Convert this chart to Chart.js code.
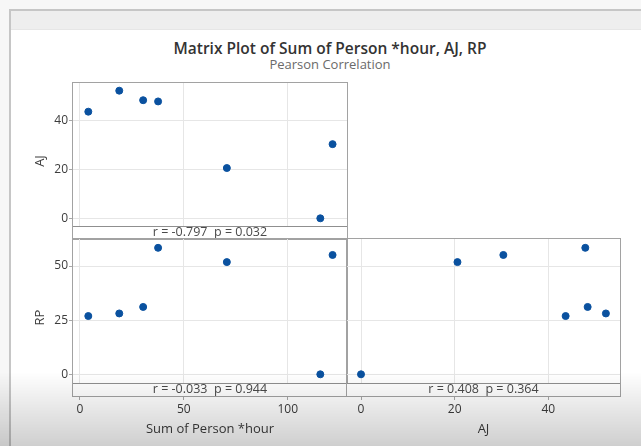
<!DOCTYPE html>
<html>
<head>
<meta charset="utf-8">
<title>Matrix Plot</title>
<script src="https://cdn.jsdelivr.net/npm/chart.js@4.4.0/dist/chart.umd.min.js"></script>
<style>
    html, body { margin: 0; padding: 0; }
    body {
        width: 641px; height: 446px; position: relative; overflow: hidden;
        background: #f7f7f7; font-family: 'Open Sans', sans-serif;
    }
    #sheet {
        position: absolute; left: 9px; top: 9px; width: 640px; height: 440px;
        background: #fff; border-left: 2px solid #c6c6c6; border-top: 2px solid #c6c6c6;
    }
    #band {
        position: absolute; left: 0; right: 0; top: 0; height: 18px;
        background: #eeeeee; border-bottom: 1px solid #e6e6e6;
    }
    .heading { position: absolute; left: 0; width: 660px; text-align: center; white-space: nowrap; }
    #mainTitle { top: 38px; font-size: 15.5px; font-weight: 600; line-height: 21px; color: #333; }
    #subTitle { top: 56px; font-size: 13px; line-height: 17px; color: #6a6a6a; }
    canvas { position: absolute; left: 0; top: 0; }
    #shade {
        position: absolute; left: 0; top: 0; width: 641px; height: 446px; pointer-events: none;
        background: linear-gradient(to bottom, rgba(0,0,0,0) 0px, rgba(0,0,0,0) 372px, rgba(0,0,0,0.19) 446px);
    }
</style>
</head>
<body>
<div id="sheet"><div id="band"></div></div>
<div id="mainTitle" class="heading">Matrix Plot of Sum of Person *hour, AJ, RP</div>
<div id="subTitle" class="heading">Pearson Correlation</div>
<canvas id="sumAjChart" width="641" height="446"></canvas>
<canvas id="sumRpChart" width="641" height="446"></canvas>
<canvas id="ajRpChart" width="641" height="446"></canvas>
<div id="shade"></div>

<script>
// observations (same order in every array)
var sumHours = [4.0, 18.9, 30.4, 37.6, 70.7, 115.7, 121.6];
var ajValues = [43.7, 52.3, 48.4, 47.9, 20.6, 0.0, 30.4];
var rpValues = [26.9, 28.1, 31.1, 58.4, 51.8, 0.0, 55.1];

// axis ticks
var sumTicks = [0, 50, 100];
var ajTicks = [0, 20, 40];
var rpTicks = [0, 25, 50];

// correlation strips under each panel
var sumAjLabel = 'r = -0.797  p = 0.032';
var sumRpLabel = 'r = -0.033  p = 0.944';
var ajRpLabel = 'r = 0.408  p = 0.364';

var STRIP = 13;

// frame + white strip with r / p text at the bottom of each panel
var panelFrame = {
    id: 'panelFrame',
    beforeDatasetsDraw: function(chart, args, opts) {
        var a = chart.chartArea;
        var ctx = chart.ctx;
        var stripTop = a.bottom - STRIP;
        ctx.save();
        ctx.fillStyle = '#ffffff';
        ctx.fillRect(a.left, stripTop, a.right - a.left, STRIP);
        ctx.strokeStyle = '#8f8f8f';
        ctx.lineWidth = 1;
        ctx.beginPath();
        ctx.moveTo(a.left, stripTop + 0.5);
        ctx.lineTo(a.right, stripTop + 0.5);
        ctx.stroke();
        ctx.strokeStyle = '#a2a2a2';
        ctx.strokeRect(a.left - 0.5, a.top - 0.5, a.right - a.left + 1, a.bottom - a.top + 1);
        ctx.fillStyle = '#4a4a4a';
        ctx.font = '12.5px "Open Sans"';
        ctx.textAlign = 'center';
        ctx.textBaseline = 'middle';
        ctx.fillText(opts.text, (a.left + a.right) / 2, stripTop + 6.5);
        ctx.restore();
    }
};

function makeAxis(min, max, tickValues, showLabels, title, size) {
    return {
        type: 'linear',
        min: min,
        max: max,
        afterBuildTicks: function(scale) {
            scale.ticks = tickValues.map(function(v) { return { value: v }; });
        },
        afterFit: function(scale) {
            if (scale.isHorizontal()) {
                scale.height = size;
            } else {
                scale.width = size;
            }
        },
        border: { display: false },
        grid: { color: '#e6e6e6', tickColor: '#a8a8a8', tickLength: 4, drawTicks: showLabels },
        ticks: {
            display: showLabels,
            padding: 2,
            color: '#3c3c3c',
            font: { family: 'Open Sans', size: 12 }
        },
        title: {
            display: title !== '',
            text: title,
            color: '#3c3c3c',
            padding: { top: 4, bottom: 4 },
            font: { family: 'Open Sans', size: 13 }
        }
    };
}

function makePanel(canvasId, xs, ys, xAxis, yAxis, padding, label) {
    var points = xs.map(function(x, i) { return { x: x, y: ys[i] }; });
    return new Chart(document.getElementById(canvasId).getContext('2d'), {
        type: 'scatter',
        data: {
            datasets: [{
                data: points,
                backgroundColor: '#0a519f',
                borderColor: '#0a519f',
                pointRadius: 3.5,
                pointHoverRadius: 3.5
            }]
        },
        options: {
            responsive: false,
            animation: false,
            layout: { padding: padding },
            scales: { x: xAxis, y: yAxis },
            plugins: {
                legend: { display: false },
                tooltip: { enabled: false },
                panelFrame: { text: label }
            }
        },
        plugins: [panelFrame]
    });
}

// Sum of Person *hour vs AJ (top left)
var sumAjChart = makePanel('sumAjChart', sumHours, ajValues,
    makeAxis(-3.37, 128.55, sumTicks, false, '', 0),
    makeAxis(-8.48, 55.45, ajTicks, true, 'AJ', 45),
    { left: 28, top: 83, right: 294, bottom: 207 },
    sumAjLabel);
sumAjChart.options.scales.y.ticks.padding = 1;
sumAjChart.update();

// Sum of Person *hour vs RP (bottom left)
var sumRpChart = makePanel('sumRpChart', sumHours, rpValues,
    makeAxis(-3.37, 128.55, sumTicks, true, 'Sum of Person *hour', 45),
    makeAxis(-10.02, 62.47, rpTicks, true, 'RP', 45),
    { left: 28, top: 239, right: 294, bottom: 5 },
    sumRpLabel);
sumRpChart.options.scales.y.ticks.padding = 1;
sumRpChart.update();

// AJ vs RP (bottom right)
var ajRpChart = makePanel('ajRpChart', ajValues, rpValues,
    makeAxis(-2.99, 55.31, ajTicks, true, 'AJ', 45),
    makeAxis(-10.02, 62.47, rpTicks, false, '', 0),
    { left: 347, top: 239, right: 21, bottom: 5 },
    ajRpLabel);
</script>
</body>
</html>
